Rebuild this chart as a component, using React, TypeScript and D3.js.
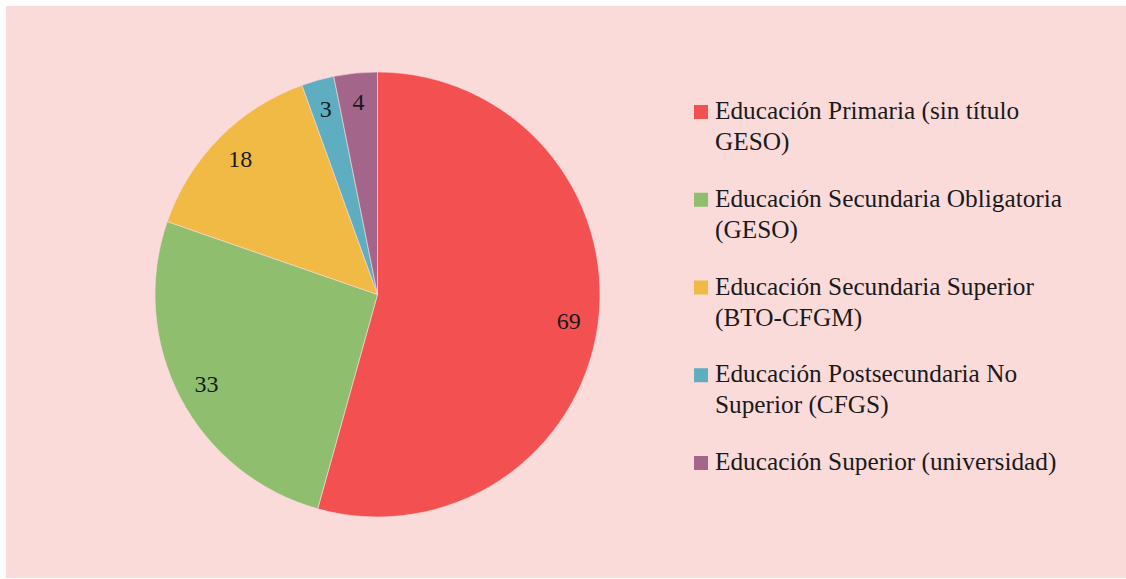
import React from "react";
import * as d3 from "d3";

const categories = [
  ["Educación Primaria (sin título", "GESO)"],
  ["Educación Secundaria Obligatoria", "(GESO)"],
  ["Educación Secundaria Superior", "(BTO-CFGM)"],
  ["Educación Postsecundaria No", "Superior (CFGS)"],
  ["Educación Superior (universidad)"],
];
const values = [69, 33, 18, 3, 4];
const colors = ["#F35151", "#8FBE6E", "#F0BA45", "#5FADC0", "#A3668A"];

const W = 1126;
const H = 579;
const cx = 377.5;
const cy = 294.5;
const R = 222.5;
const FONT = "'Liberation Serif', serif";

export default function App() {
  const pie = d3.pie<number>().sort(null).value((d) => d)(values);
  const arc = d3.arc<d3.PieArcDatum<number>>().innerRadius(0).outerRadius(R);
  const labelArc = d3.arc<d3.PieArcDatum<number>>().innerRadius(193 * 2 - R).outerRadius(R);
  const legendY = d3.scaleLinear().domain([0, 4]).range([119, 470]);
  const ts = { fontFamily: FONT };

  return (
    <svg width={W} height={H} style={{ position: "absolute", left: 0, top: 0 }}>
      <rect x={6} y={6} width={W - 6} height={H - 7} fill="#FADBDA" />
      <g transform={`translate(${cx},${cy})`}>
        {pie.map((p, i) => (
          <path key={i} d={arc(p) || ""} fill={colors[i]} stroke="#FADBDA" strokeWidth={0.6} />
        ))}
        {pie.map((p, i) => {
          const [x, y] = labelArc.centroid(p);
          return (
            <text
              key={i}
              x={x}
              y={y}
              textAnchor="middle"
              dominantBaseline="central"
              fontSize={24}
              fill="#1a1a1a"
              style={ts}
            >
              {values[i]}
            </text>
          );
        })}
      </g>
      {categories.map((lines, i) => {
        const y = legendY(i);
        return (
          <g key={i}>
            <rect x={694} y={y - 14} width={14} height={14} fill={colors[i]} />
            {lines.map((l, j) => (
              <text key={j} x={715} y={y + j * 31} fontSize={25.3} fill="#1a1a1a" style={ts}>
                {l}
              </text>
            ))}
          </g>
        );
      })}
    </svg>
  );
}
